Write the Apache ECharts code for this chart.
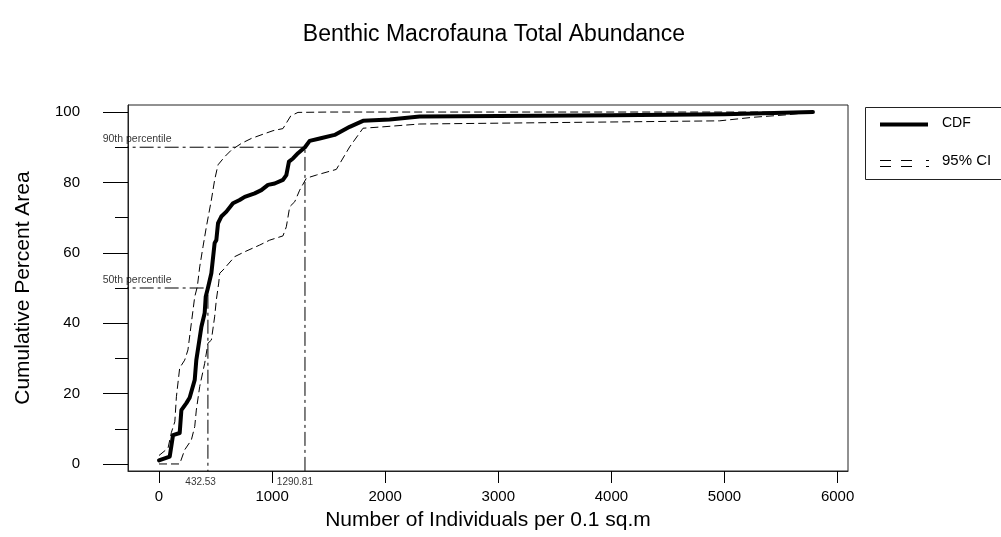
<!DOCTYPE html>
<html>
<head>
<meta charset="utf-8">
<title>Benthic Macrofauna Total Abundance</title>
<script src="https://cdn.jsdelivr.net/npm/echarts@6/dist/echarts.min.js"></script>
<style>
  html, body { margin: 0; padding: 0; background: #fff; }
  #chart { width: 1001px; height: 537px; }
</style>
</head>
<body>
<div id="chart"></div>
<script>
// Cumulative distribution of abundance (x = individuals per 0.1 sq.m, y = cumulative % area)
const cdf = [
  [0, 1.0], [95, 2.1], [124, 8.2], [183, 8.8], [198, 15.3], [242, 17.3], [271, 18.8],
  [316, 23.9], [330, 29.5], [375, 39.0], [404, 42.9], [413, 47.5], [432.53, 50.0],
  [463, 54.2], [492, 62.8], [507, 63.6], [522, 68.4], [551, 70.3], [596, 71.7],
  [654, 74.1], [713, 75.0], [758, 75.9], [846, 76.9], [905, 77.8], [964, 79.3],
  [1023, 79.7], [1096, 80.7], [1126, 82.1], [1149, 85.9], [1185, 86.8], [1229, 88.3],
  [1290.81, 90.0], [1332, 91.8], [1421, 92.5], [1553, 93.5], [1686, 95.8], [1804, 97.5],
  [2040, 97.9], [2305, 98.7], [3000, 98.9], [4000, 99.1], [5000, 99.4], [5782, 100]
];

// Upper 95% confidence bound
const ciUpper = [
  [0, 2.4], [80, 4.5], [110, 9.0], [140, 12.0], [154, 19.1], [183, 27.3], [227, 29.5],
  [256, 32.4], [286, 40.0], [316, 47.5], [339, 50.4], [360, 56.0], [389, 61.7],
  [419, 67.4], [463, 75.0], [492, 80.7], [522, 85.0], [581, 87.3], [640, 89.2],
  [729, 91.1], [817, 92.5], [920, 93.7], [1008, 94.7], [1096, 95.3], [1165, 98.9],
  [1229, 99.9], [1509, 100], [5782, 100]
];

// Lower 95% confidence bound
const ciLower = [
  [0, 0], [183, 0], [227, 4.0], [286, 6.8], [316, 10.6], [330, 15.3], [360, 22.0],
  [404, 28.6], [433, 34.3], [463, 35.2], [492, 41.8], [507, 46.6], [528, 51.4],
  [537, 54.2], [566, 55.1], [669, 58.9], [758, 60.3], [890, 62.2], [979, 63.6],
  [1096, 64.8], [1126, 67.4], [1156, 73.1], [1200, 74.5], [1244, 77.8], [1303, 81.2],
  [1392, 82.1], [1568, 83.7], [1686, 90.1], [1804, 95.4], [1981, 95.8], [2305, 96.6],
  [4957, 97.5], [5249, 98.5], [5547, 99.2], [5782, 100]
];

// Percentile guides
const pctLevels = [50, 90];
const pctValues = [432.53, 1290.81];
const pctNames = ['50th percentile', '90th percentile'];

// Axis ticks
const xTicks = [0, 1000, 2000, 3000, 4000, 5000, 6000];
const yTicks = [0, 20, 40, 60, 80, 100];
const yMinorTicks = [10, 30, 50, 70, 90];

const X_MIN = -274, X_MAX = 6092;
const Y_MIN = -2, Y_MAX = 102;
const GUIDE_X0 = X_MIN - 118;   // guides start just outside the left axis

const FONT = '"Liberation Sans", Arial, sans-serif';
const INK = '#000';

// Dash-dot guide lines: horizontal from the left margin to the CDF, then down to the axis
const guideSeries = pctLevels.map(function (lvl, i) {
  return {
    type: 'line',
    name: pctNames[i],
    clip: false,
    silent: true,
    showSymbol: false,
    symbol: 'none',
    z: 2,
    lineStyle: { color: INK, width: 1, type: [14, 4, 3, 4] },
    data: [[GUIDE_X0, lvl], [pctValues[i], lvl], [pctValues[i], Y_MIN]]
  };
});

// Text for the guides: percentile names above the horizontal part, values under the axis
const guideLabels = {
  type: 'scatter',
  clip: false,
  silent: true,
  symbol: 'circle',
  symbolSize: 1,
  itemStyle: { color: 'rgba(0,0,0,0)' },
  z: 5,
  data: pctLevels.map(function (lvl, i) {
    return {
      value: [GUIDE_X0, lvl],
      label: {
        show: true, position: 'top', align: 'left', distance: 2, offset: [-12, 0],
        formatter: pctNames[i], fontFamily: FONT, fontSize: 10.5, color: INK
      }
    };
  }).concat(pctValues.map(function (v) {
    return {
      value: [v, Y_MIN],
      label: {
        show: true, position: 'bottom', align: 'right', distance: 6, offset: [8, 0],
        formatter: String(v), fontFamily: FONT, fontSize: 10, color: INK
      }
    };
  }))
};

const chart = echarts.init(document.getElementById('chart'), null, { renderer: 'canvas' });

chart.setOption({
  animation: false,
  backgroundColor: '#fff',
  title: {
    text: 'Benthic Macrofauna Total Abundance',
    left: 489, top: 18, textAlign: 'center',
    textStyle: { fontFamily: FONT, fontSize: 23, fontWeight: 'normal', color: INK }
  },
  grid: {
    left: 128, top: 105, width: 720, height: 366,
    outerBoundsMode: 'none', containLabel: false,
    show: true, borderColor: '#222', borderWidth: 1, backgroundColor: 'transparent'
  },
  xAxis: {
    type: 'value', min: X_MIN, max: X_MAX,
    name: 'Number of Individuals per 0.1 sq.m',
    nameLocation: 'middle', nameGap: 39,
    nameTextStyle: { fontFamily: FONT, fontSize: 21, color: INK },
    axisLine: { show: true, onZero: false, lineStyle: { color: '#222', width: 1 } },
    axisTick: { show: true, length: 12, customValues: xTicks, lineStyle: { color: INK } },
    axisLabel: {
      customValues: xTicks, margin: 18, fontFamily: FONT, fontSize: 15, color: INK,
      formatter: function (v) { return String(v); }
    },
    splitLine: { show: false }
  },
  yAxis: [
    {
      type: 'value', min: Y_MIN, max: Y_MAX,
      name: 'Cumulative Percent Area',
      nameLocation: 'middle', nameGap: 94, nameRotate: 90,
      nameTextStyle: { fontFamily: FONT, fontSize: 21, color: INK },
      axisLine: { show: true, onZero: false, lineStyle: { color: '#222', width: 1 } },
      axisTick: { show: true, length: 25, customValues: yTicks, lineStyle: { color: INK } },
      axisLabel: {
        customValues: yTicks, margin: 48, fontFamily: FONT, fontSize: 15, color: INK,
        formatter: function (v) { return String(v); }
      },
      splitLine: { show: false }
    },
    {
      type: 'value', min: Y_MIN, max: Y_MAX, position: 'left',
      axisLine: { show: false, onZero: false },
      axisTick: { show: true, length: 13, customValues: yMinorTicks, lineStyle: { color: INK } },
      axisLabel: { show: false },
      splitLine: { show: false }
    }
  ],
  series: guideSeries.concat([
    {
      type: 'line', name: '95% CI upper', data: ciUpper, showSymbol: false, symbol: 'none',
      silent: true, z: 3,
      lineStyle: { color: INK, width: 1, type: [8, 4] }
    },
    {
      type: 'line', name: '95% CI lower', data: ciLower, showSymbol: false, symbol: 'none',
      silent: true, z: 3,
      lineStyle: { color: INK, width: 1, type: [8, 4] }
    },
    {
      type: 'line', name: 'CDF', data: cdf, showSymbol: false, symbol: 'none',
      silent: true, z: 4,
      lineStyle: { color: INK, width: 4, join: 'round', cap: 'round' }
    },
    guideLabels
  ]),
  // Legend box
  graphic: [
    {
      type: 'rect', left: 863, top: 105, silent: true,
      shape: { width: 137, height: 72 },
      style: { fill: 'none', stroke: '#222', lineWidth: 1 }
    },
    {
      type: 'line', silent: true,
      shape: { x1: 880, y1: 124.5, x2: 928, y2: 124.5 },
      style: { stroke: INK, lineWidth: 4 }
    },
    {
      type: 'line', silent: true,
      shape: { x1: 880, y1: 160.5, x2: 929, y2: 160.5 },
      style: { stroke: INK, lineWidth: 1, lineDash: [11, 10, 11, 14] }
    },
    {
      type: 'line', silent: true,
      shape: { x1: 880, y1: 166.5, x2: 929, y2: 166.5 },
      style: { stroke: INK, lineWidth: 1, lineDash: [11, 10, 11, 14] }
    },
    {
      type: 'text', left: 942, top: 116, silent: true,
      style: { text: 'CDF', font: '14px ' + FONT, fill: INK }
    },
    {
      type: 'text', left: 942, top: 153, silent: true,
      style: { text: '95% CI', font: '15px ' + FONT, fill: INK }
    }
  ]
});
</script>
</body>
</html>
